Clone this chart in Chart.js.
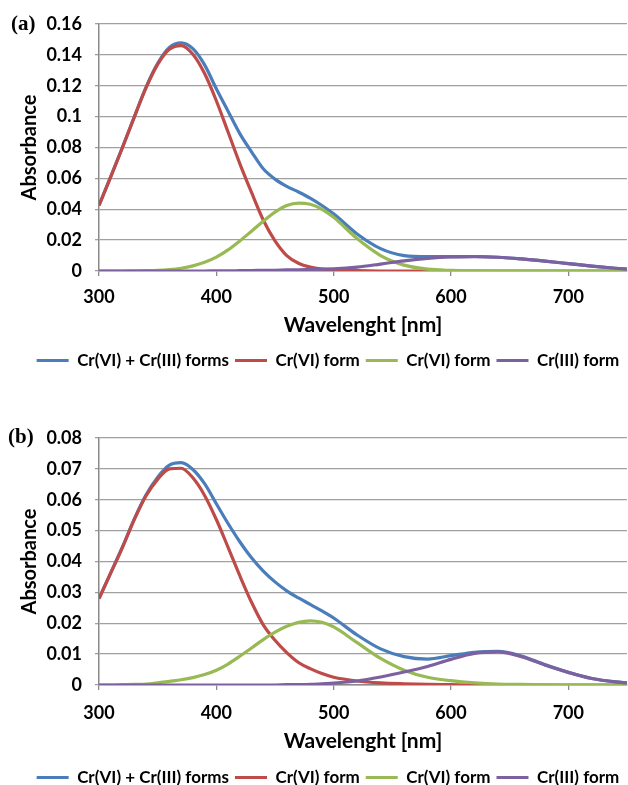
<!DOCTYPE html>
<html>
<head>
<meta charset="utf-8">
<script src="https://cdn.jsdelivr.net/npm/chart.js@4.4.0/dist/chart.umd.min.js"></script>
<style>
  body { margin: 0; background: #fff; width: 628px; height: 785px; position: relative; overflow: hidden; }
  .panel { position: absolute; left: 0; width: 628px; }
  .tag { position: absolute; font: bold 21px "Liberation Serif", serif; color: #000; }
</style>
</head>
<body>
<div class="panel" style="top:0;height:392px"><canvas id="chartA"></canvas></div>
<div class="panel" style="top:392px;height:405px"><canvas id="chartB"></canvas></div>
<div class="tag" style="left:11px;top:11px">(a)</div>
<div class="tag" style="left:8px;top:424px">(b)</div>
<script>
// wavelength grid (nm), shared by every series
const wavelengths = [300, 310, 320, 330, 340, 350, 360, 370, 380, 390,
  400, 410, 420, 430, 440, 450, 460, 470, 480, 490,
  500, 520, 540, 560, 580, 600, 620, 640, 660, 680, 700, 720, 740, 750];

const seriesNames = ['Cr(VI) + Cr(III) forms', 'Cr(VI) form', 'Cr(VI) form', 'Cr(III) form'];
const seriesColors = ['#4a7ebb', '#be4b48', '#98b954', '#7d60a0'];

// panel (a)
const totalA = [0.0425, 0.0611, 0.0801, 0.0997, 0.1189, 0.1345, 0.1448, 0.1478, 0.1440, 0.1335,
  0.1180, 0.1035, 0.0890, 0.0772, 0.0662, 0.0595, 0.0548, 0.0512, 0.0472, 0.0424,
  0.0370, 0.0240, 0.0145, 0.0100, 0.0093, 0.0093, 0.0094, 0.0089, 0.0078, 0.0064, 0.0048, 0.0032, 0.0018, 0.0012];
const cr6BandA = [0.0425, 0.0610, 0.0800, 0.0995, 0.1185, 0.1338, 0.1436, 0.1460, 0.1404, 0.1279,
  0.1103, 0.0900, 0.0696, 0.0509, 0.0330, 0.0195, 0.0100, 0.0050, 0.0025, 0.0013,
  0.0008, 0.0002, 0, 0, 0, 0, 0, 0, 0, 0, 0, 0, 0, 0];
const cr6ShoulderA = [0, 0, 0, 0.0001, 0.0002, 0.0004, 0.0009, 0.0018, 0.0033, 0.0056,
  0.0090, 0.0137, 0.0195, 0.0258, 0.0322, 0.0381, 0.0424, 0.0440, 0.0432, 0.0400,
  0.0348, 0.0210, 0.0100, 0.0038, 0.0012, 0.0004, 0.0001, 0, 0, 0, 0, 0, 0, 0];
const cr3BandA = [0, 0, 0, 0, 0, 0, 0, 0, 0, 0,
  0.0001, 0.0001, 0.0002, 0.0003, 0.0004, 0.0005, 0.0007, 0.0008, 0.0010, 0.0012,
  0.0014, 0.0025, 0.0045, 0.0066, 0.0082, 0.0091, 0.0093, 0.0089, 0.0078, 0.0064, 0.0048, 0.0032, 0.0018, 0.0012];

// panel (b)
const totalB = [0.0280, 0.0363, 0.0447, 0.0537, 0.0615, 0.0673, 0.0712, 0.0720, 0.0698, 0.0652,
  0.0587, 0.0523, 0.0464, 0.0412, 0.0369, 0.0334, 0.0305, 0.0282, 0.0261, 0.0240,
  0.0217, 0.0162, 0.0117, 0.0092, 0.0084, 0.0095, 0.0106, 0.0109, 0.0094, 0.0066, 0.0041, 0.0021, 0.0010, 0.0007];
const cr6BandB = [0.0280, 0.0363, 0.0446, 0.0535, 0.0612, 0.0666, 0.0700, 0.0702, 0.0671, 0.0614,
  0.0536, 0.0446, 0.0354, 0.0268, 0.0195, 0.0145, 0.0105, 0.0073, 0.0053, 0.0037,
  0.0025, 0.0013, 0.0007, 0.0004, 0.0002, 0.0001, 0, 0, 0, 0, 0, 0, 0, 0];
const cr6ShoulderB = [0, 0, 0.0001, 0.0002, 0.0003, 0.0007, 0.0012, 0.0017, 0.0024, 0.0034,
  0.0048, 0.0068, 0.0093, 0.0120, 0.0147, 0.0171, 0.0190, 0.0203, 0.0208, 0.0203,
  0.0188, 0.0137, 0.0086, 0.0048, 0.0025, 0.0014, 0.0007, 0.0003, 0.0002, 0.0001, 0, 0, 0, 0];
const cr3BandB = [0, 0, 0, 0, 0, 0, 0, 0, 0, 0,
  0, 0, 0, 0, 0, 0, 0.0001, 0.0001, 0.0002, 0.0004,
  0.0006, 0.0013, 0.0026, 0.0042, 0.0060, 0.0083, 0.0102, 0.0107, 0.0092, 0.0065, 0.0041, 0.0021, 0.0010, 0.0007];

const xTicksShown = [300, 400, 500, 600, 700];

Chart.defaults.font.family = 'Lato';
Chart.defaults.color = '#000';

function buildDatasets(seriesList) {
  return seriesList.map((values, i) => ({
    label: seriesNames[i],
    data: wavelengths.map((w, k) => ({ x: w, y: values[k] })),
    borderColor: seriesColors[i],
    backgroundColor: seriesColors[i],
    borderWidth: 3.2,
    pointRadius: 0,
    pointHoverRadius: 0,
    pointBorderWidth: 3.2,
    pointBorderColor: seriesColors[i],
    cubicInterpolationMode: 'monotone',
    fill: false,
    order: 4 - i   // last series painted on top
  }));
}

function makeChart(canvasId, seriesList, yMax, yStep, pad) {
  const ctx = document.getElementById(canvasId).getContext('2d');
  return new Chart(ctx, {
    type: 'line',
    data: { datasets: buildDatasets(seriesList) },
    options: {
      responsive: true,
      maintainAspectRatio: false,
      animation: false,
      events: [],
      layout: { padding: { left: 29, right: 1, top: pad.top, bottom: pad.bottom } },
      plugins: {
        tooltip: { enabled: false },
        legend: {
          position: 'bottom',
          labels: {
            usePointStyle: true,
            pointStyle: 'line',
            pointStyleWidth: 32,
            padding: 6,
            font: { size: 17, weight: 'bold' },
            sort: (a, b) => a.datasetIndex - b.datasetIndex
          }
        }
      },
      scales: {
        x: {
          type: 'linear',
          min: 300,
          max: 750,
          afterBuildTicks: s => { s.ticks = xTicksShown.map(v => ({ value: v })); },
          afterFit: s => { s.height = pad.xAxis; },
          ticks: { font: { size: 18, weight: 'bold' }, padding: pad.tickGap, maxRotation: 0 },
          grid: { drawOnChartArea: false, drawTicks: true, tickLength: 5, color: '#8a8a8a', lineWidth: 1.3 },
          border: { color: '#8a8a8a', width: 1.5 },
          title: { display: true, text: 'Wavelenght [nm]', font: { size: 21, weight: 'bold' }, padding: { top: 0, bottom: pad.titleGap } }
        },
        y: {
          min: 0,
          max: yMax,
          afterFit: s => { s.width = 70; },
          ticks: {
            stepSize: yStep,
            padding: 13,
            font: { size: 18, weight: 'bold' },
            callback: v => String(+v.toFixed(3))
          },
          grid: { color: '#a0a0a0', lineWidth: 1.3, tickLength: 4 },
          border: { color: '#8a8a8a', width: 1.5 },
          title: { display: true, text: 'Absorbance', font: { size: 20, weight: 'bold' }, padding: { top: -11, bottom: 0 } }
        }
      }
    }
  });
}

makeChart('chartA', [totalA, cr6BandA, cr6ShoulderA, cr3BandA], 0.16, 0.02,
  { top: 24, bottom: 13, xAxis: 75, titleGap: 8, tickGap: 10 });
makeChart('chartB', [totalB, cr6BandB, cr6ShoulderB, cr3BandB], 0.08, 0.01,
  { top: 46, bottom: 1, xAxis: 78, titleGap: 9, tickGap: 12 });
</script>
</body>
</html>
